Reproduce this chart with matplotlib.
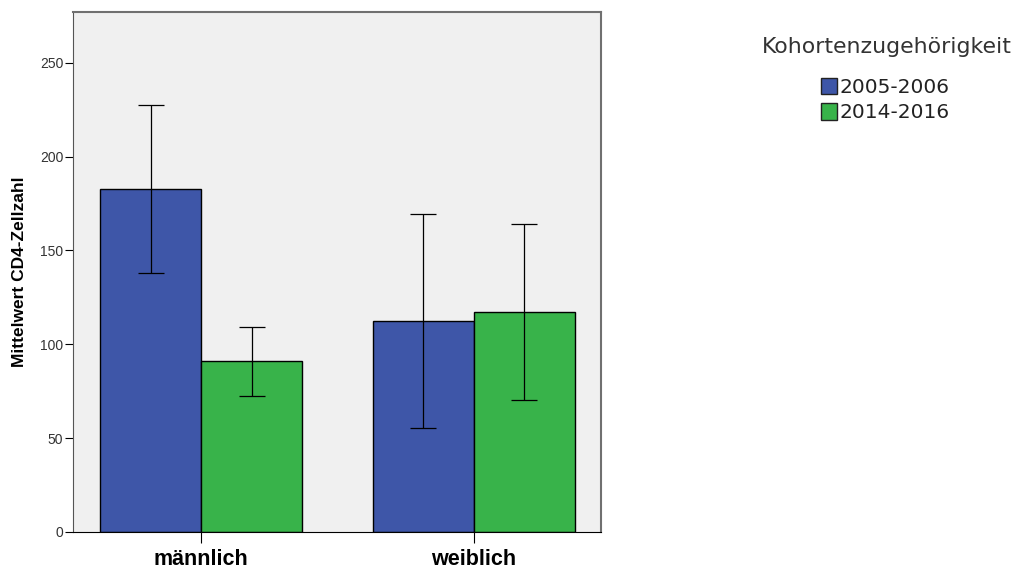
import numpy as np
import matplotlib.pyplot as plt
from matplotlib.patches import Patch

plt.rcParams['font.family'] = ['Liberation Sans', 'DejaVu Sans']

# Daten
geschlecht = ['männlich', 'weiblich']
kohorten = ['2005-2006', '2014-2016']
mittelwert = {'2005-2006': [182.8, 112.5], '2014-2016': [91.2, 117.3]}
ci_unten = {'2005-2006': [138.0, 55.4], '2014-2016': [72.5, 70.4]}
ci_oben = {'2005-2006': [227.6, 169.5], '2014-2016': [109.3, 164.2]}
farben = ['#3E56A8', '#38B34A']
yticks = [0, 50, 100, 150, 200, 250]

fig = plt.figure(figsize=(10.17, 5.68), dpi=100)
ax = fig.add_axes([0.0718, 0.0634, 0.519, 0.9155])
ax.set_facecolor('#F0F0F0')

x = np.arange(len(geschlecht))
breite = 0.37
for k, (kohorte, farbe) in enumerate(zip(kohorten, farben)):
    pos = x + (k - 0.5) * breite
    m = np.array(mittelwert[kohorte])
    err = [m - np.array(ci_unten[kohorte]), np.array(ci_oben[kohorte]) - m]
    ax.bar(pos, m, breite, color=farbe, edgecolor='black', linewidth=1.0, zorder=2)
    ax.errorbar(pos, m, yerr=err, fmt='none', ecolor='black', elinewidth=0.9,
                capsize=9.4, capthick=0.9, zorder=3)

ax.set_xlim(-0.469, 1.465)
ax.set_ylim(0, 277)
ax.set_yticks(yticks)
ax.set_xticks(x)
ax.set_xticklabels(geschlecht, fontsize=15.5, fontweight='bold')
ax.tick_params(axis='y', labelsize=10, length=6, width=0.8, color='black', pad=1,
               labelcolor='#333333')
ax.tick_params(axis='x', length=8, width=0.8, color='black', pad=4)
ax.set_ylabel('Mittelwert CD4-Zellzahl', fontsize=12.5, fontweight='bold', labelpad=9)

for side in ['top', 'right']:
    ax.spines[side].set_color('#707070')
    ax.spines[side].set_linewidth(1.5)
ax.spines['left'].set_color('#555555')
ax.spines['bottom'].set_color('black')

fig.text(0.8717, 0.917, 'Kohortenzugehörigkeit', fontsize=15.8, color='#333333',
         ha='center', va='center', family='DejaVu Sans')
handles = [Patch(facecolor=f, edgecolor='#222222', label=k) for k, f in zip(kohorten, farben)]
fig.legend(handles=handles, loc='upper left', bbox_to_anchor=(0.797, 0.881),
           frameon=False, prop={'family': 'DejaVu Sans', 'size': 14.5},
           handlelength=0.8, handleheight=0.9,
           handletextpad=0.15, labelspacing=0.3, borderpad=0, labelcolor='#222222')

fig.savefig('out.png', dpi=100)
